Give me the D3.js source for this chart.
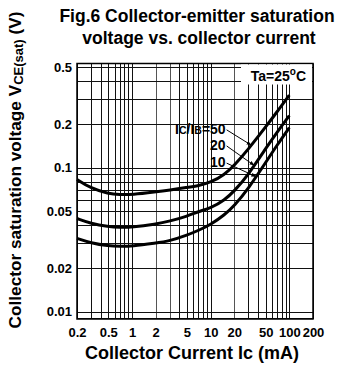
<!DOCTYPE html>
<html>
<head>
<meta charset="utf-8">
<script src="https://cdn.jsdelivr.net/npm/d3@7"></script>
<style>
  body { margin: 0; background: #fff; }
  text { font-family: "Liberation Sans", Arial, sans-serif; font-weight: bold; fill: #000; }
</style>
</head>
<body>
<script>
// collector current (mA) where the curves were read
var icValues = [0.2, 0.3, 0.5, 0.7, 1, 2, 3, 5, 7, 10, 15, 20, 30, 50, 70, 100];
// VCE(sat) in V for each IC/IB ratio
var vce50 = [0.083, 0.072, 0.066, 0.065, 0.065, 0.068, 0.070, 0.073, 0.075, 0.079, 0.0895, 0.104, 0.134, 0.192, 0.245, 0.32];
var vce20 = [0.0444, 0.041, 0.039, 0.0385, 0.0386, 0.0406, 0.0425, 0.046, 0.0497, 0.0524, 0.0595, 0.069, 0.089, 0.136, 0.177, 0.23];
var vce10 = [0.0323, 0.030, 0.0286, 0.0284, 0.0285, 0.030, 0.031, 0.034, 0.0367, 0.0403, 0.047, 0.0545, 0.0713, 0.1086, 0.144, 0.19];
var ratioLabels = ["50", "20", "10"];

var xTicks = [0.2, 0.5, 1, 2, 5, 10, 20, 50, 100, 200];
var yTicks = [0.5, 0.2, 0.1, 0.05, 0.02, 0.01];
var yGrid = [0.5, 0.4, 0.3, 0.2, 0.1, 0.09, 0.08, 0.07, 0.06, 0.05, 0.04, 0.03, 0.02, 0.01, 0.009];

var width = 344;
var height = 370;

var svg = d3.select("body")
    .append("svg")
    .attr("width", width)
    .attr("height", height);

var x = d3.scaleLog()
    .domain([0.2, 200])
    .range([77, 313]);

var y = d3.scaleLog()
    .domain([0.0089, 0.53])
    .range([319, 63.5]);

var g = svg.append("g");

// grid
g.selectAll(".vgrid")
    .data(x.ticks())
    .enter()
    .append("line")
    .attr("x1", function(d) { return Math.round(x(d)) + 0.5; })
    .attr("x2", function(d) { return Math.round(x(d)) + 0.5; })
    .attr("y1", y.range()[1])
    .attr("y2", y.range()[0])
    .attr("stroke", function(d) { return (d === 2 || d === 20 || d === 3) ? "#555" : "#111"; })
    .attr("stroke-width", 1);

g.selectAll(".hgrid")
    .data(yGrid)
    .enter()
    .append("line")
    .attr("x1", x.range()[0])
    .attr("x2", x.range()[1])
    .attr("y1", function(d) { return Math.round(y(d)) + 0.5; })
    .attr("y2", function(d) { return Math.round(y(d)) + 0.5; })
    .attr("stroke", "#111")
    .attr("stroke-width", 1);

// frame
g.append("rect")
    .attr("x", x.range()[0])
    .attr("y", y.range()[1])
    .attr("width", x.range()[1] - x.range()[0])
    .attr("height", y.range()[0] - y.range()[1])
    .attr("fill", "none")
    .attr("stroke", "#000")
    .attr("stroke-width", 1.5);

// curves
var series = [vce50, vce20, vce10];
var line = d3.line()
    .x(function(d, i) { return x(icValues[i]); })
    .y(function(d) { return y(d); })
    .curve(d3.curveBasis);

g.selectAll(".curve")
    .data(series)
    .enter()
    .append("path")
    .attr("d", line)
    .attr("fill", "none")
    .attr("stroke", "#000")
    .attr("stroke-width", 3);

// axes
var xAxis = svg.append("g")
    .attr("transform", "translate(0," + y.range()[0] + ")")
    .call(d3.axisBottom(x).tickValues(xTicks).tickFormat(function(d) { return String(d); }).tickSize(0).tickPadding(9));
xAxis.select(".domain").remove();
xAxis.selectAll("text").style("font-size", "13px");

var yAxis = svg.append("g")
    .attr("transform", "translate(" + (x.range()[0] - 4) + ",0)")
    .call(d3.axisLeft(y).tickValues(yTicks).tickFormat(function(d) { return String(d); }).tickSize(0).tickPadding(1));
yAxis.select(".domain").remove();
yAxis.selectAll("text").style("font-size", "13px");

// title
svg.append("text")
    .attr("x", 197)
    .attr("y", 22)
    .attr("text-anchor", "middle")
    .style("font-size", "17.5px")
    .text("Fig.6 Collector-emitter saturation");
svg.append("text")
    .attr("x", 199)
    .attr("y", 44)
    .attr("text-anchor", "middle")
    .style("font-size", "17.5px")
    .text("voltage vs. collector current");

// axis titles
svg.append("text")
    .attr("x", 192)
    .attr("y", 359)
    .attr("text-anchor", "middle")
    .style("font-size", "18px")
    .text("Collector Current Ic (mA)");

var yTitle = svg.append("text")
    .attr("transform", "translate(21,170) rotate(-90)")
    .attr("text-anchor", "middle")
    .style("font-size", "17.2px");
yTitle.append("tspan").text("Collector saturation voltage V");
yTitle.append("tspan").attr("dy", 2).style("font-size", "13px").text("CE(sat)");
yTitle.append("tspan").attr("dy", -2).text(" (V)");

// Ta box
var xr = x.range()[1];
var yt = y.range()[1];
svg.append("rect")
    .attr("x", xr - 72)
    .attr("y", yt + 1)
    .attr("width", 71)
    .attr("height", 20)
    .attr("fill", "#fff");
var ta = svg.append("text")
    .attr("x", xr - 7)
    .attr("y", yt + 17)
    .attr("text-anchor", "end")
    .style("font-size", "14px");
ta.append("tspan").text("Ta=25");
ta.append("tspan").attr("dy", -6).style("font-size", "10px").text("o");
ta.append("tspan").attr("dy", 6).text("C");

// ratio labels with leader lines
svg.append("defs").append("marker")
    .attr("id", "arr")
    .attr("viewBox", "0 0 10 10")
    .attr("refX", 10).attr("refY", 5)
    .attr("markerWidth", 5).attr("markerHeight", 5)
    .attr("orient", "auto")
    .append("path")
    .attr("d", "M0,1 L10,5 L0,9 z")
    .attr("fill", "#000");

function curveAt(vals, xv) {
    var i = d3.bisectRight(icValues, xv) - 1;
    var t = (Math.log(xv) - Math.log(icValues[i])) / (Math.log(icValues[i + 1]) - Math.log(icValues[i]));
    return Math.exp(Math.log(vals[i]) + t * (Math.log(vals[i + 1]) - Math.log(vals[i])));
}

var labelX = 15.5;
var labelY = [0.172, 0.133, 0.101];
var targetX = [33, 36, 38];

ratioLabels.forEach(function(r, i) {
    var t = svg.append("text")
        .attr("x", x(labelX))
        .attr("y", y(labelY[i]))
        .attr("text-anchor", "end")
        .style("font-size", "14px");
    if (i === 0) {
        t.append("tspan").text("I");
        t.append("tspan").style("font-size", "10.5px").text("C");
        t.append("tspan").text("/I");
        t.append("tspan").style("font-size", "10.5px").text("B");
        t.append("tspan").text("=" + r);
    } else {
        t.text(r);
    }
    svg.append("line")
        .attr("x1", x(labelX) + 1)
        .attr("y1", y(labelY[i]) - 4)
        .attr("x2", x(targetX[i]))
        .attr("y2", y(curveAt(series[i], targetX[i])))
        .attr("stroke", "#000")
        .attr("stroke-width", 1)
        .attr("marker-end", "url(#arr)");
});
</script>
</body>
</html>
